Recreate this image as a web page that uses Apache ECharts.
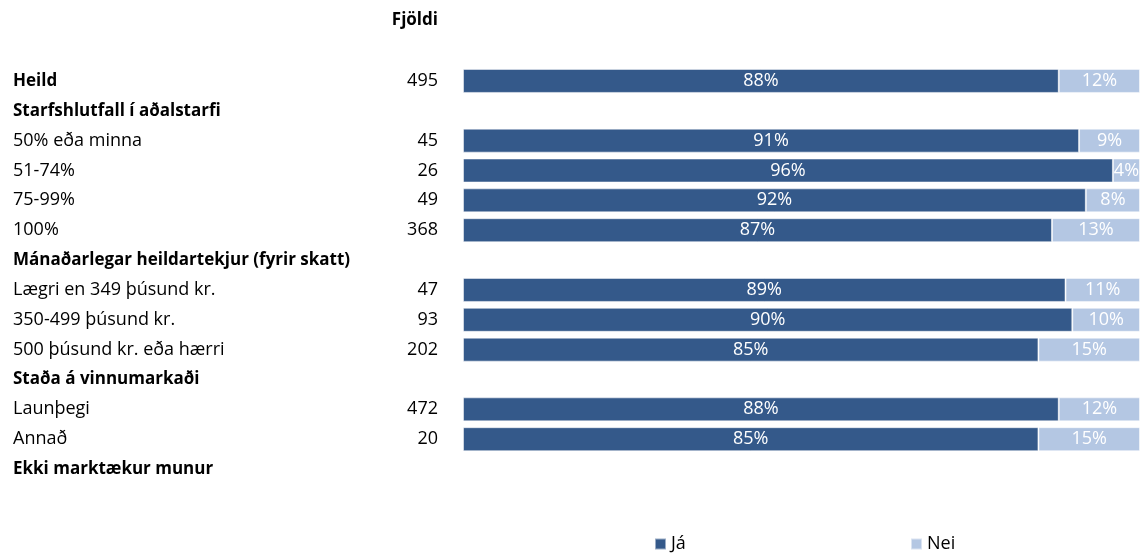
<!DOCTYPE html>
<html>
<head>
<meta charset="utf-8">
<script src="https://cdn.jsdelivr.net/npm/echarts@6/dist/echarts.min.js"></script>
<style>
  html, body { margin: 0; padding: 0; background: #fff; }
  #chart { width: 1143px; height: 554px; }
</style>
</head>
<body>
<div id="chart"></div>
<script>
  // flokkar (fyrirsagnir hafa engan fjölda)
  var categories = ['Heild', 'Starfshlutfall í aðalstarfi', '50% eða minna', '51-74%', '75-99%', '100%',
    'Mánaðarlegar heildartekjur (fyrir skatt)', 'Lægri en 349 þúsund kr.', '350-499 þúsund kr.',
    '500 þúsund kr. eða hærri', 'Staða á vinnumarkaði', 'Launþegi', 'Annað', 'Ekki marktækur munur']
  var counts = [495, null, 45, 26, 49, 368, null, 47, 93, 202, null, 472, 20, null]
  var bold = [true, true, false, false, false, false, true, false, false, false, true, false, false, true]
  var ja = [88, null, 91, 96, 92, 87, null, 89, 90, 85, null, 88, 85, null]
  var nei = [12, null, 9, 4, 8, 13, null, 11, 10, 15, null, 12, 15, null]

  var font = '"Open Sans", Lato, sans-serif'
  var fs = 18
  var myChart = echarts.init(document.getElementById('chart'))

  var option = {
    animation: false,
    textStyle: { fontFamily: font },
    title: {
      text: 'Fjöldi',
      right: 700,
      top: 7,
      textStyle: { fontSize: 17, fontWeight: 'bold', color: '#000', fontFamily: font }
    },
    legend: [
      {
        data: ['Já'], left: 649, top: 530, icon: 'rect', itemWidth: 11, itemHeight: 11, itemGap: 6,
        textStyle: { fontSize: fs, color: '#000', fontFamily: font }
      },
      {
        data: ['Nei'], left: 905, top: 530, icon: 'rect', itemWidth: 11, itemHeight: 11, itemGap: 6,
        textStyle: { fontSize: fs, color: '#000', fontFamily: font }
      }
    ],
    grid: { left: 463, right: 3, top: 66, height: 418 },
    xAxis: { type: 'value', min: 0, max: 100, show: false },
    yAxis: [
      {
        type: 'category',
        inverse: true,
        data: categories,
        axisLine: { show: false },
        axisTick: { show: false },
        axisLabel: {
          align: 'left',
          margin: 450,
          fontSize: fs,
          color: '#000',
          fontFamily: font,
          formatter: function (v, i) {
            return bold[i] ? '{b|' + v + '}' : v
          },
          rich: { b: { fontWeight: 'bold', fontSize: 17, color: '#000', fontFamily: font } }
        }
      },
      {
        type: 'category',
        inverse: true,
        position: 'left',
        data: counts.map(function (c) { return c == null ? '' : String(c) }),
        axisLine: { show: false },
        axisTick: { show: false },
        axisLabel: { align: 'right', margin: 25, fontSize: fs, color: '#000', fontFamily: font }
      }
    ],
    series: [
      {
        name: 'Já',
        type: 'bar',
        stack: 'total',
        barWidth: 24,
        data: ja,
        itemStyle: { color: '#34598A', borderColor: 'rgba(255,255,255,0.5)', borderWidth: 1 },
        label: {
          show: true, position: 'inside', color: '#fff', fontSize: fs, fontFamily: font,
          formatter: '{c}%'
        }
      },
      {
        name: 'Nei',
        type: 'bar',
        stack: 'total',
        barWidth: 24,
        data: nei,
        itemStyle: { color: '#B4C7E3', borderColor: 'rgba(255,255,255,0.5)', borderWidth: 1 },
        label: {
          show: true, position: 'inside', color: '#fff', fontSize: fs, fontFamily: font,
          formatter: '{c}%'
        }
      }
    ]
  }
  myChart.setOption(option)
</script>
</body>
</html>
